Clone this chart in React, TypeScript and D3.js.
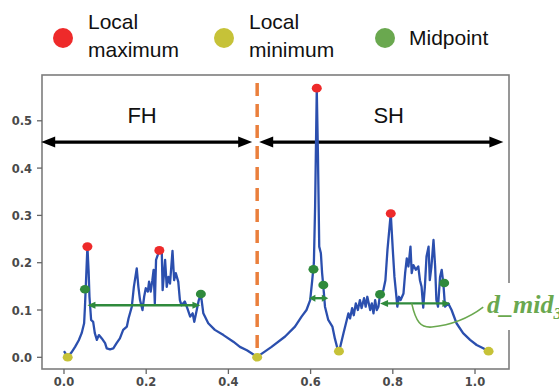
import React from "react";
import * as d3 from "d3";

// ---- data ----
const curveX = [
  0.0, 0.009, 0.018, 0.027, 0.036, 0.043, 0.049, 0.051, 0.053, 0.057, 0.06, 0.062, 0.066, 0.071, 0.075, 0.08,
  0.085, 0.092, 0.1, 0.104, 0.112, 0.12, 0.128, 0.136, 0.144, 0.153, 0.157, 0.165, 0.17, 0.177, 0.181, 0.185,
  0.191, 0.195, 0.199, 0.204, 0.207, 0.211, 0.215, 0.218, 0.221, 0.224, 0.232, 0.238, 0.24, 0.246, 0.25, 0.254,
  0.258, 0.264, 0.268, 0.272, 0.278, 0.282, 0.286, 0.294, 0.3, 0.307, 0.313, 0.317, 0.323, 0.328, 0.333, 0.339,
  0.351, 0.367, 0.388, 0.412, 0.428, 0.445, 0.47,
  0.505, 0.538, 0.562, 0.578, 0.59, 0.599, 0.604, 0.608, 0.611, 0.615, 0.618, 0.621, 0.625, 0.628, 0.631, 0.635,
  0.643, 0.653, 0.659, 0.667, 0.672, 0.68, 0.688, 0.692, 0.696, 0.701, 0.705, 0.71, 0.715, 0.72, 0.724, 0.73,
  0.734, 0.738, 0.745, 0.749, 0.753, 0.757, 0.761, 0.765, 0.769, 0.777, 0.782, 0.787, 0.795, 0.8, 0.804, 0.808,
  0.811, 0.815, 0.819, 0.826, 0.83, 0.834, 0.838, 0.843, 0.846, 0.85, 0.856, 0.862, 0.866, 0.87, 0.874, 0.878,
  0.882, 0.887, 0.89, 0.894, 0.899, 0.903, 0.906, 0.91, 0.915, 0.919, 0.923, 0.927, 0.935, 0.943, 0.955, 0.971,
  0.988, 1.004, 1.02, 1.031,
];
const curveY = [
  0.013, 0.001, 0.01, 0.022, 0.036, 0.051, 0.072, 0.107, 0.149, 0.234, 0.18, 0.128, 0.079, 0.075, 0.051, 0.037,
  0.047, 0.04, 0.03, 0.019, 0.017, 0.019, 0.03, 0.04, 0.058, 0.065, 0.082, 0.107, 0.149, 0.188, 0.149, 0.121,
  0.1, 0.128, 0.146, 0.139, 0.16, 0.139, 0.163, 0.185, 0.114, 0.206, 0.226, 0.22, 0.142, 0.206, 0.149, 0.17,
  0.156, 0.225, 0.163, 0.178, 0.16, 0.121, 0.11, 0.118, 0.104, 0.086, 0.093, 0.075, 0.1, 0.121, 0.133, 0.093,
  0.072, 0.058, 0.047, 0.033, 0.022, 0.015, 0.001,
  0.022, 0.044, 0.065, 0.086, 0.1, 0.121, 0.163, 0.2, 0.32, 0.566, 0.42, 0.234, 0.22, 0.178, 0.15, 0.107,
  0.079, 0.065, 0.04, 0.013, 0.022, 0.051, 0.079, 0.093, 0.082, 0.104, 0.089, 0.114, 0.1, 0.121, 0.104, 0.125,
  0.107, 0.128, 0.1, 0.114, 0.093, 0.121, 0.1, 0.107, 0.133, 0.142, 0.163, 0.227, 0.304, 0.227, 0.17, 0.135,
  0.107, 0.128, 0.121, 0.135, 0.178, 0.209, 0.192, 0.234, 0.178, 0.195, 0.185, 0.192, 0.163, 0.149, 0.105, 0.149,
  0.213, 0.234, 0.163, 0.192, 0.248, 0.192, 0.121, 0.107, 0.17, 0.185, 0.156, 0.107, 0.114, 0.1, 0.072, 0.051,
  0.037, 0.026, 0.019, 0.014,
];

const maxX = [0.057, 0.232, 0.615, 0.795];
const maxY = [0.234, 0.226, 0.569, 0.304];
const minX = [0.009, 0.47, 0.669, 1.033];
const minY = [0.0, 0.0, 0.013, 0.013];
const midX = [0.051, 0.333, 0.607, 0.631, 0.769, 0.925];
const midY = [0.144, 0.134, 0.186, 0.153, 0.133, 0.157];

// midpoint distance arrows: [x1, x2, y]
const midArrowX1 = [0.057, 0.596, 0.769];
const midArrowX2 = [0.332, 0.643, 0.94];
const midArrowY = [0.11, 0.125, 0.114];

const halfX = 0.47;
const halfArrowY = 0.455;
const xTicks = [0.0, 0.2, 0.4, 0.6, 0.8, 1.0];
const yTicks = [0.0, 0.1, 0.2, 0.3, 0.4, 0.5];
const legendLabels = [["Local", "maximum"], ["Local", "minimum"], ["Midpoint"]];

// ---- layout ----
const W = 559;
const H = 389;
const L = 42, R = 509, T = 75, B = 369;

const RED = "#ee2a2a";
const YEL = "#c6c238";
const GRN = "#2f8a3c";
const LGRN = "#6aa84f";
const BLUE = "#2b4fae";
const ORANGE = "#ea7f3c";

function arrowHead(x: number, y: number, dir: number, len: number, half: number) {
  return `M${x},${y} L${x - dir * len},${y - half} L${x - dir * len},${y + half} Z`;
}

export default function App() {
  const x = d3.scaleLinear().domain([-0.0535, 1.0827]).range([L, R]);
  const y = d3.scaleLinear().domain([-0.0247, 0.5968]).range([B, T]);

  const pts: [number, number][] = curveX.map((v, i) => [v, curveY[i]]);
  const line = d3.line<[number, number]>().x((d) => x(d[0])).y((d) => y(d[1]));

  const ya = y(halfArrowY);
  const a1L = x(-0.053) - 1, a1R = x(halfX) - 5;
  const a2L = x(halfX) + 2, a2R = x(1.069);

  const aStart: [number, number] = [0.846, 0.114];
  const aC1: [number, number] = [0.856, 0.075];
  const aC2: [number, number] = [0.868, 0.062];
  const aMid: [number, number] = [0.895, 0.064];
  const aQ: [number, number] = [0.965, 0.07];
  const aEnd: [number, number] = [1.02, 0.106];
  const annPath =
    `M${x(aStart[0])},${y(aStart[1])} C${x(aC1[0])},${y(aC1[1])} ${x(aC2[0])},${y(aC2[1])} ${x(aMid[0])},${y(aMid[1])}` +
    ` Q${x(aQ[0])},${y(aQ[1])} ${x(aEnd[0])},${y(aEnd[1])}`;

  const legendX = [63, 224, 385];
  const legendCol = [RED, YEL, LGRN];

  return (
    <svg
      width={W}
      height={H}
      style={{ position: "fixed", left: 0, top: 0, background: "#fff" }}
      fontFamily="'Liberation Sans', Arial, sans-serif"
    >
      <rect x={0} y={0} width={W} height={H} fill="#fff" />

      {/* legend */}
      {legendLabels.map((lines, i) => (
        <g key={i}>
          <circle cx={legendX[i]} cy={38} r={10} fill={legendCol[i]} />
          {lines.length === 2 ? (
            <text x={legendX[i] + 25} y={29} fontSize={21} fill="#111">
              <tspan x={legendX[i] + 25} y={29}>{lines[0]}</tspan>
              <tspan x={legendX[i] + 25} y={57}>{lines[1]}</tspan>
            </text>
          ) : (
            <text x={legendX[i] + 24} y={45} fontSize={21} fill="#111">{lines[0]}</text>
          )}
        </g>
      ))}

      {/* frame */}
      <rect x={L} y={T} width={R - L} height={B - T} fill="none" stroke="#7d7d7d" strokeWidth={1.6} />

      {/* ticks */}
      {xTicks.map((t) => (
        <g key={"x" + t}>
          <line x1={x(t)} x2={x(t)} y1={B} y2={B + 5} stroke="#666" strokeWidth={1.3} />
          <text x={x(t)} y={386} fontSize={11.5} textAnchor="middle" fill="#4a4a4a"
            fontFamily="'DejaVu Sans', sans-serif" fontWeight="bold">{t.toFixed(1)}</text>
        </g>
      ))}
      {yTicks.map((t) => (
        <g key={"y" + t}>
          <line x1={L - 5} x2={L} y1={y(t)} y2={y(t)} stroke="#666" strokeWidth={1.3} />
          <text x={32} y={y(t) + 4.5} fontSize={11.5} textAnchor="end" fill="#4a4a4a"
            fontFamily="'DejaVu Sans', sans-serif" fontWeight="bold">{t.toFixed(1)}</text>
        </g>
      ))}

      {/* FH / SH arrows */}
      <line x1={a1L + 12} x2={a1R - 12} y1={ya} y2={ya} stroke="#000" strokeWidth={3.2} />
      <path d={arrowHead(a1L, ya, -1, 14, 5.5)} fill="#000" />
      <path d={arrowHead(a1R, ya, 1, 14, 5.5)} fill="#000" />
      <line x1={a2L + 12} x2={a2R - 12} y1={ya} y2={ya} stroke="#000" strokeWidth={3.2} />
      <path d={arrowHead(a2L, ya, -1, 14, 5.5)} fill="#000" />
      <path d={arrowHead(a2R, ya, 1, 14, 5.5)} fill="#000" />
      <text x={x(0.19)} y={123} fontSize={22} textAnchor="middle" fill="#111">FH</text>
      <text x={x(0.79)} y={123} fontSize={22} textAnchor="middle" fill="#111">SH</text>

      {/* curve */}
      <path d={line(pts) || ""} fill="none" stroke={BLUE} strokeWidth={2.3} strokeLinejoin="round" />

      {/* orange dashed half line */}
      <line x1={x(halfX)} x2={x(halfX)} y1={y(0.58)} y2={y(0.0)} stroke={ORANGE} strokeWidth={3.5}
        strokeDasharray="13,8" />

      {/* midpoint arrows */}
      {midArrowY.map((v, i) => {
        const x1 = x(midArrowX1[i]);
        const x2 = x(midArrowX2[i]);
        const yy = y(v);
        const len = Math.min(8, (x2 - x1) / 3);
        return (
          <g key={"ma" + i}>
            <line x1={x1 + len - 1} x2={x2 - len + 1} y1={yy} y2={yy} stroke={GRN} strokeWidth={2.4} />
            <path d={arrowHead(x1, yy, -1, len, 3.5)} fill={GRN} />
            <path d={arrowHead(x2, yy, 1, len, 3.5)} fill={GRN} />
          </g>
        );
      })}

      {/* annotation */}
      <path d={annPath} fill="none" stroke={LGRN} strokeWidth={1.6} />

      {/* markers */}
      {minX.map((v, i) => (
        <ellipse key={"mn" + i} cx={x(v)} cy={y(minY[i])} rx={5} ry={4.3} fill={YEL} />
      ))}
      {maxX.map((v, i) => (
        <ellipse key={"mx" + i} cx={x(v)} cy={y(maxY[i])} rx={5} ry={4.3} fill={RED} />
      ))}
      {midX.map((v, i) => (
        <ellipse key={"md" + i} cx={x(v)} cy={y(midY[i])} rx={5} ry={4.3} fill={GRN} />
      ))}

      {/* label */}
      <rect x={485} y={283} width={74} height={47} fill="#fff" />
      <text x={487} y={313} fill={LGRN} fontFamily="'Liberation Serif', 'Times New Roman', serif"
        fontStyle="italic" fontWeight="bold" fontSize={26}>
        d_mid<tspan fontSize={17} dy={6}>3</tspan>
      </text>
    </svg>
  );
}
